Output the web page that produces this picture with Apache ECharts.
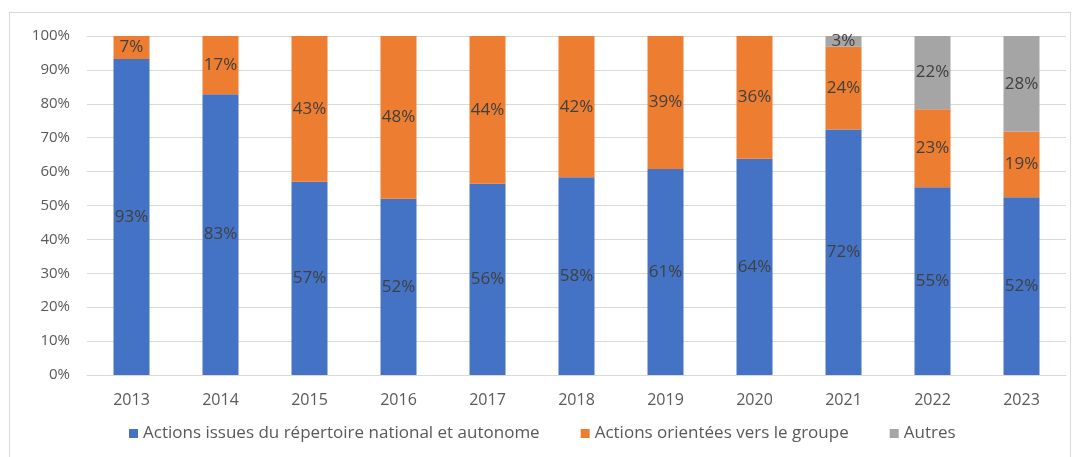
<!DOCTYPE html>
<html lang="fr">
<head>
    <meta http-equiv="Content-Type" content="text/html; charset=utf-8"/>
    <title>Actions</title>
    <script type="text/javascript" src="https://cdn.jsdelivr.net/npm/echarts@6/dist/echarts.min.js"></script>
    <style>
        body { margin: 0; background: #fff; }
        #frame { position: absolute; left: 9px; top: 12px; width: 1060px; height: 450px; border: 1px solid #d9d9d9; }
        #chart { position: absolute; left: 0; top: 0; width: 1075px; height: 457px; }
    </style>
</head>
<body>
<div id="frame"></div>
<div id="chart"></div>
<script type="text/javascript">
    // annees
    var annees = ['2013', '2014', '2015', '2016', '2017', '2018', '2019', '2020', '2021', '2022', '2023'];
    // parts en %
    var repertoire = [93.2, 82.8, 57.0, 52.0, 56.4, 58.3, 60.8, 63.8, 72.4, 55.4, 52.4];
    var groupe = [6.8, 17.2, 43.0, 48.0, 43.6, 41.7, 39.2, 36.2, 24.4, 23.0, 19.4];
    var autres = [0, 0, 0, 0, 0, 0, 0, 0, 3.2, 21.6, 28.2];
    var graduations = [0, 10, 20, 30, 40, 50, 60, 70, 80, 90, 100];

    var myChart = echarts.init(document.getElementById('chart'));

    function serie(nom, valeurs, couleur) {
        return {
            name: nom,
            type: 'bar',
            stack: 'total',
            barWidth: 36,
            data: valeurs,
            itemStyle: { color: couleur },
            label: {
                show: true,
                position: 'inside',
                color: '#404040',
                fontSize: 17,
                fontFamily: 'Open Sans',
                formatter: function (p) {
                    return p.value > 0 ? Math.round(p.value) + '%' : '';
                }
            }
        };
    }

    var option = {
        animation: false,
        textStyle: { fontFamily: 'Open Sans' },
        grid: { left: 87, right: 9, top: 36, bottom: 82 },
        legend: {
            bottom: 10,
            left: 124,
            itemWidth: 9,
            itemHeight: 9,
            itemGap: 41,
            icon: 'rect',
            textStyle: { color: '#595959', fontSize: 17, fontFamily: 'Open Sans' },
            data: ['Actions issues du répertoire national et autonome', 'Actions orientées vers le groupe', 'Autres']
        },
        xAxis: {
            type: 'category',
            data: annees,
            axisLine: { lineStyle: { color: '#d9d9d9' } },
            axisTick: { show: false },
            axisLabel: { color: '#595959', fontSize: 16, margin: 17 }
        },
        yAxis: {
            type: 'value',
            min: graduations[0],
            max: graduations[graduations.length - 1],
            interval: 10,
            axisLine: { show: false },
            axisTick: { show: false },
            axisLabel: { color: '#595959', fontSize: 15, margin: 17, formatter: '{value}%' },
            splitLine: { lineStyle: { color: '#d9d9d9' } }
        },
        series: [
            serie('Actions issues du répertoire national et autonome', repertoire, '#4472c4'),
            serie('Actions orientées vers le groupe', groupe, '#ed7d31'),
            serie('Autres', autres, '#a5a5a5')
        ]
    };
    myChart.setOption(option);
</script>
</body>
</html>
